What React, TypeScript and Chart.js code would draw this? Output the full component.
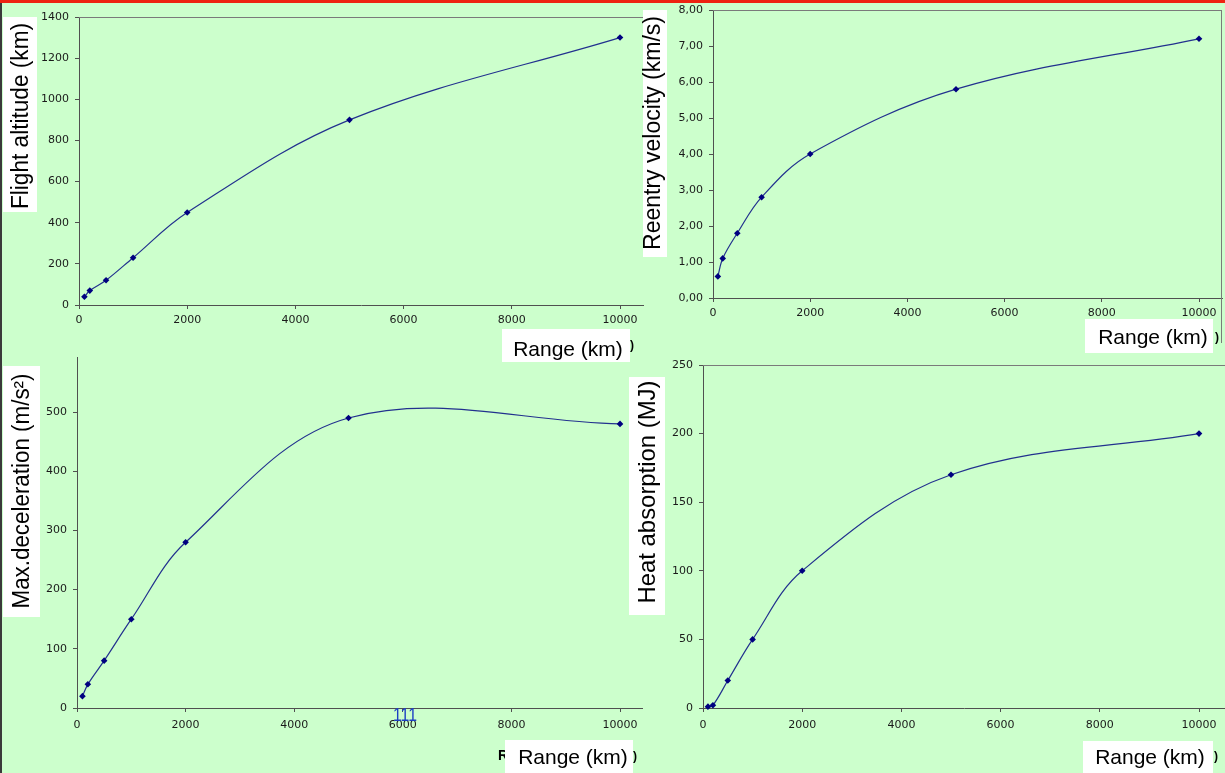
import React, { useEffect, useRef } from "react";
import { Chart, registerables } from "chart.js";

Chart.register(...registerables);

// ---------- data ----------
const rangeKm = [100, 200, 500, 1000, 2000, 5000, 10000];
const flightAltitude = [40, 70, 120, 230, 450, 900, 1300];
const reentryVelocity = [0.6, 1.1, 1.8, 2.8, 4.0, 5.8, 7.2];
const maxDeceleration = [20, 40, 80, 150, 280, 490, 480];
const heatAbsorption = [1, 2, 20, 50, 100, 170, 200];

const rangeTicks = [0, 2000, 4000, 6000, 8000, 10000];
const altitudeTicks = [0, 200, 400, 600, 800, 1000, 1200, 1400];
const velocityTicks = [0, 1, 2, 3, 4, 5, 6, 7, 8];
const decelTicks = [0, 100, 200, 300, 400, 500];
const heatTicks = [0, 50, 100, 150, 200, 250];

const altitudeTitle = "Flight altitude (km)";
const velocityTitle = "Reentry velocity (km/s)";
const decelTitle = "Max.deceleration (m/s²)";
const heatTitle = "Heat absorption (MJ)";
const rangeTitle = "Range (km)";
const strayLabel = "111";

// ---------- layout / style ----------
const CANVAS = { left: -20, top: -30, width: 1265, height: 833 };
const BG = "#CCFFCC";
const LINE = "#22318E";
const MARK = "#000080";
const AXIS = "#505050";
const TICK_FONT = { family: "DejaVu Sans", size: 11 };
const TICK_COLOR = "#1a1a1a";

type TextItem = {
  text: string;
  x: number;
  y: number;
  rot?: number;
  font: string;
  color?: string;
  maxWidth?: number;
  box?: [number, number, number, number];
};

const decorPlugin = {
  id: "decor",
  afterDraw(chart: any, _args: any, opts: any) {
    const ctx = chart.ctx as CanvasRenderingContext2D;
    const ca = chart.chartArea;
    ctx.save();
    ctx.strokeStyle = opts.frameColor || "#808080";
    ctx.lineWidth = 1;
    if (opts.frameTop) {
      ctx.beginPath();
      ctx.moveTo(ca.left, Math.round(ca.top) + 0.5);
      ctx.lineTo(ca.right, Math.round(ca.top) + 0.5);
      ctx.stroke();
    }
    if (opts.frameRight) {
      ctx.beginPath();
      ctx.moveTo(Math.round(ca.right) - 0.5, ca.top);
      ctx.lineTo(Math.round(ca.right) - 0.5, ca.bottom + (opts.frameRightExtra || 0));
      ctx.stroke();
    }
    ctx.translate(-CANVAS.left, -CANVAS.top);
    for (const t of (opts.texts || []) as TextItem[]) {
      if (t.box) {
        ctx.fillStyle = "#FFFFFF";
        ctx.fillRect(t.box[0], t.box[1], t.box[2] - t.box[0], t.box[3] - t.box[1]);
      }
      ctx.save();
      ctx.translate(t.x, t.y);
      if (t.rot) ctx.rotate((t.rot * Math.PI) / 180);
      ctx.font = t.font;
      ctx.fillStyle = t.color || "#000";
      ctx.textAlign = "center";
      ctx.textBaseline = "middle";
      if (t.maxWidth) ctx.fillText(t.text, 0, 0, t.maxWidth);
      else ctx.fillText(t.text, 0, 0);
      ctx.restore();
    }
    ctx.restore();
  },
};

type Spec = {
  plot: { left: number; top: number; right: number; bottom: number };
  xMax: number;
  yMax: number;
  yTicks: number[];
  values: number[];
  yFmt?: (v: number) => string;
  xPad: number;
  frameTop: boolean;
  frameRight?: boolean;
  frameRightExtra?: number;
  texts: TextItem[];
};

function makeConfig(s: Spec): any {
  const p = s.plot;
  return {
    type: "line",
    data: {
      datasets: [
        {
          data: rangeKm.map((x, i) => ({ x, y: s.values[i] })),
          borderColor: LINE,
          borderWidth: 1.2,
          tension: 0.36,
          fill: false,
          pointStyle: "rectRot",
          pointRadius: 3.3,
          pointBackgroundColor: MARK,
          pointBorderColor: MARK,
          pointBorderWidth: 0,
          clip: false,
        },
      ],
    },
    options: {
      responsive: false,
      animation: false,
      events: [],
      layout: {
        padding: {
          left: 0,
          top: p.top - CANVAS.top,
          right: CANVAS.left + CANVAS.width - p.right,
          bottom: 0,
        },
      },
      plugins: {
        legend: { display: false },
        tooltip: { enabled: false },
        title: { display: false },
        decor: {
          frameTop: s.frameTop,
          frameRight: s.frameRight,
          frameRightExtra: s.frameRightExtra,
          frameColor: "#7a7a7a",
          texts: s.texts,
        },
      },
      scales: {
        x: {
          type: "linear",
          position: "bottom",
          min: 0,
          max: s.xMax,
          afterBuildTicks: (sc: any) => {
            sc.ticks = rangeTicks.map((v) => ({ value: v }));
          },
          afterFit: (sc: any) => {
            sc.height = CANVAS.top + CANVAS.height - p.bottom;
          },
          grid: { drawOnChartArea: false, drawTicks: true, tickLength: 4, color: AXIS },
          border: { display: true, color: AXIS, width: 1 },
          ticks: {
            font: TICK_FONT,
            color: TICK_COLOR,
            padding: s.xPad,
            maxRotation: 0,
            autoSkip: false,
            callback: (v: number) => String(v),
          },
        },
        y: {
          type: "linear",
          min: 0,
          max: s.yMax,
          afterBuildTicks: (sc: any) => {
            sc.ticks = s.yTicks.map((v) => ({ value: v }));
          },
          afterFit: (sc: any) => {
            sc.width = p.left - CANVAS.left;
          },
          grid: { drawOnChartArea: false, drawTicks: true, tickLength: 4, color: AXIS },
          border: { display: true, color: AXIS, width: 1 },
          ticks: {
            font: TICK_FONT,
            color: TICK_COLOR,
            padding: 6,
            autoSkip: false,
            callback: (v: number) => (s.yFmt ? s.yFmt(v) : String(v)),
          },
        },
      },
    },
    plugins: [decorPlugin],
  };
}

const remnantFont = "bold 12px 'Liberation Sans'";

const specs: Spec[] = [
  {
    plot: { left: 79, top: 17, right: 643, bottom: 305 },
    xMax: 10425,
    yMax: 1400,
    yTicks: altitudeTicks,
    values: flightAltitude,
    xPad: 5,
    frameTop: true,
    texts: [
      { text: ")", x: 632, y: 346, font: remnantFont },
      { text: altitudeTitle, x: 22, y: 116, rot: -90, font: "23px 'Liberation Sans'", maxWidth: 186, box: [3, 17, 37, 212] },
      { text: rangeTitle, x: 568, y: 350, font: "21px 'Liberation Sans'", maxWidth: 111, box: [502, 329, 630, 362] },
    ],
  },
  {
    plot: { left: 713, top: 10, right: 1222, bottom: 298 },
    xMax: 10473,
    yMax: 8,
    yTicks: velocityTicks,
    values: reentryVelocity,
    yFmt: (v) => v.toFixed(2).replace(".", ","),
    xPad: 5,
    frameTop: true,
    frameRight: true,
    frameRightExtra: 45,
    texts: [
      { text: ")", x: 1217, y: 338, font: remnantFont },
      { text: velocityTitle, x: 654, y: 133, rot: -90, font: "23px 'Liberation Sans'", maxWidth: 235, box: [643, 10, 667, 257] },
      { text: rangeTitle, x: 1153, y: 338, font: "21px 'Liberation Sans'", maxWidth: 111, box: [1085, 319, 1213, 353] },
    ],
  },
  {
    plot: { left: 77, top: 357, right: 642, bottom: 708 },
    xMax: 10405,
    yMax: 593,
    yTicks: decelTicks,
    values: maxDeceleration,
    xPad: 7,
    frameTop: false,
    texts: [
      { text: "R", x: 503, y: 756, font: "bold 14px 'Liberation Sans'" },
      { text: ")", x: 635, y: 757, font: remnantFont },
      { text: decelTitle, x: 23, y: 491, rot: -90, font: "23px 'Liberation Sans'", maxWidth: 235, box: [3, 366, 40, 617] },
      { text: rangeTitle, x: 573, y: 758, font: "21px 'Liberation Sans'", maxWidth: 111, box: [505, 740, 633, 773] },
      { text: strayLabel, x: 405, y: 716, font: "18px 'Liberation Sans'", color: "#1C3FC4", maxWidth: 24 },
    ],
  },
  {
    plot: { left: 703, top: 365, right: 1225, bottom: 708 },
    xMax: 10524,
    yMax: 250,
    yTicks: heatTicks,
    values: heatAbsorption,
    xPad: 7,
    frameTop: true,
    texts: [
      { text: ")", x: 1216, y: 757, font: remnantFont },
      { text: heatTitle, x: 648, y: 492, rot: -90, font: "24px 'Liberation Sans'", maxWidth: 223, box: [629, 377, 665, 615] },
      { text: rangeTitle, x: 1150, y: 758, font: "21px 'Liberation Sans'", maxWidth: 111, box: [1083, 741, 1213, 773] },
    ],
  },
];

function ChartLayer({ spec }: { spec: Spec }) {
  const ref = useRef<HTMLCanvasElement>(null);
  useEffect(() => {
    const chart = new Chart(ref.current as HTMLCanvasElement, makeConfig(spec));
    return () => chart.destroy();
  }, [spec]);
  return (
    <canvas
      ref={ref}
      width={CANVAS.width}
      height={CANVAS.height}
      style={{
        position: "absolute",
        left: CANVAS.left,
        top: CANVAS.top,
        width: CANVAS.width,
        height: CANVAS.height,
      }}
    />
  );
}

export default function App() {
  return (
    <div
      style={{
        position: "fixed",
        left: 0,
        top: 0,
        width: 1225,
        height: 773,
        background: BG,
        overflow: "hidden",
      }}
    >
      {specs.map((s, i) => (
        <ChartLayer key={i} spec={s} />
      ))}
      <div style={{ position: "absolute", left: 0, top: 0, width: 2, height: 773, background: "#3a3a3a" }} />
      <div style={{ position: "absolute", left: 0, top: 0, width: 1225, height: 3, background: "#EE2211" }} />
    </div>
  );
}
